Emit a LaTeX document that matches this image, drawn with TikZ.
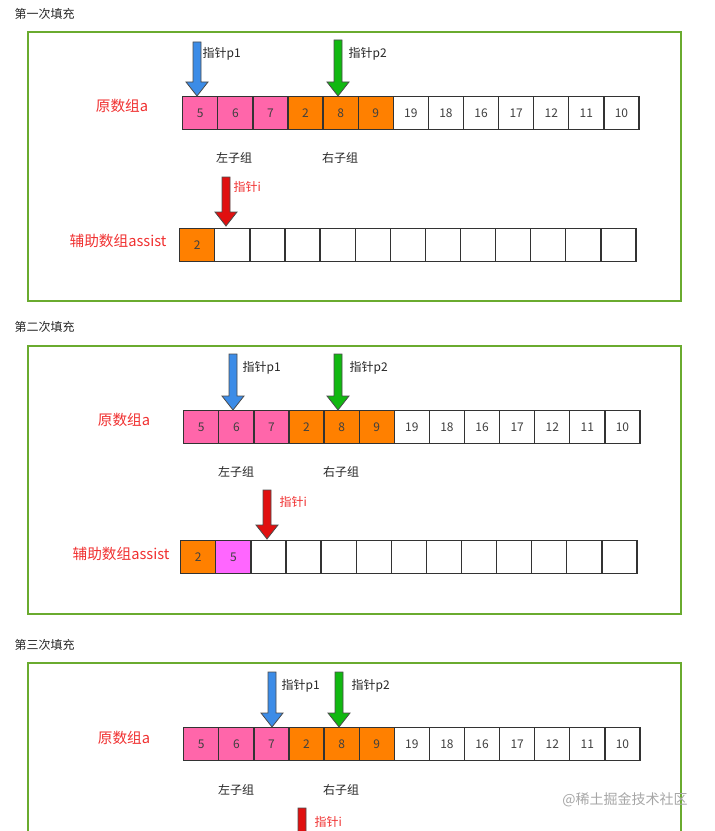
\documentclass[tikz,border=0pt]{standalone}
\usepackage{fontspec}
\setmainfont{Noto Sans CJK SC}
\definecolor{pk}{HTML}{FF66AA}
\definecolor{og}{HTML}{FF8000}
\definecolor{mg}{HTML}{FF66FF}
\definecolor{bl}{HTML}{3C8CE7}
\definecolor{gn}{HTML}{11B811}
\definecolor{rd}{HTML}{E01010}
\definecolor{fr}{HTML}{6AAB2F}
\definecolor{lbl}{HTML}{F03030}
\tikzset{
 cell/.style={draw=black!80,line width=1pt,minimum width=26.4pt,minimum height=24.5pt,inner sep=0pt,text height=7pt,text depth=0pt,font=\fontsize{9}{10}\selectfont,text=black!75,anchor=north west},
 frame/.style={draw=fr,line width=1.2pt},
 title/.style={font=\fontsize{9}{10}\selectfont,text=black!85,anchor=west},
 small/.style={font=\fontsize{9}{10}\selectfont,text=black!85},
 redlbl/.style={font=\fontsize{11}{12}\selectfont,text=lbl},
 ptr/.style={font=\fontsize{9}{10}\selectfont,text=black!85,anchor=west},
}
\newcommand{\barrow}[4]{\fill[#4,draw=black!70,line width=0.6pt]
 (#1-4,#2) -- (#1+4,#2) -- (#1+4,#3-14) -- (#1+11,#3-14) -- (#1,#3) -- (#1-11,#3-14) -- (#1-4,#3-14) -- cycle;}
\newcommand{\arr}[4]{\foreach \v/\c [count=\i from 0] in {#4}
 {\node[cell,fill=\c] (#1\i) at (#2+\i*35.1,#3) {\v};}}
\begin{document}
\begin{tikzpicture}[x=0.75pt,y=-0.75pt]
\useasboundingbox (0,0) rectangle (714,831);
\clip (0,0) rectangle (714,831);
% ---------- panel 1
\node[title] (t1) at (10,14) {第一次填充};
\draw[frame] (28,32) rectangle (681,301);
\arr{a}{182}{96}{5/pk,6/pk,7/pk,2/og,8/og,9/og,19/white,18/white,16/white,17/white,12/white,11/white,10/white}
\node[redlbl] (la) at (122,106) {原数组a};
\barrow{197}{42}{96}{bl}
\barrow{338}{40}{96}{gn}
\node[ptr] (p1) at (198,54) {指针p1};
\node[ptr] (p2) at (344,54) {指针p2};
\node[small] (l1) at (234,158) {左子组};
\node[small] (r1) at (340,158) {右子组};
\barrow{226}{177}{226}{rd}
\node[ptr,text=lbl] (i1) at (229,187) {指针i};
\arr{b}{179}{228}{2/og,/white,/white,/white,/white,/white,/white,/white,/white,/white,/white,/white,/white}
\node[redlbl] (lb) at (118,241) {辅助数组assist};
% ---------- panel 2
\node[title] (t2) at (10,327) {第二次填充};
\draw[frame] (28,346) rectangle (681,614);
\arr{c}{183}{410}{5/pk,6/pk,7/pk,2/og,8/og,9/og,19/white,18/white,16/white,17/white,12/white,11/white,10/white}
\node[redlbl] (lc) at (124,420) {原数组a};
\barrow{233}{354}{410}{bl}
\barrow{338}{354}{410}{gn}
\node[ptr] (p3) at (238,368) {指针p1};
\node[ptr] (p4) at (345,368) {指针p2};
\node[small] (l2) at (236,472) {左子组};
\node[small] (r2) at (341,472) {右子组};
\barrow{267}{490}{539}{rd}
\node[ptr,text=lbl] (i2) at (275,502) {指针i};
\arr{d}{180}{540}{2/og,5/mg,/white,/white,/white,/white,/white,/white,/white,/white,/white,/white,/white}
\node[redlbl] (ld) at (121,554) {辅助数组assist};
% ---------- panel 3
\node[title] (t3) at (10,645) {第三次填充};
\draw[frame] (28,663) rectangle (681,840);
\arr{e}{183}{727}{5/pk,6/pk,7/pk,2/og,8/og,9/og,19/white,18/white,16/white,17/white,12/white,11/white,10/white}
\node[redlbl] (le) at (124,738) {原数组a};
\barrow{272}{672}{727}{bl}
\barrow{339}{672}{727}{gn}
\node[ptr] (p5) at (277,686) {指针p1};
\node[ptr] (p6) at (347,686) {指针p2};
\node[small] (l3) at (236,790) {左子组};
\node[small] (r3) at (341,790) {右子组};
\barrow{302}{808}{860}{rd}
\node[ptr,text=lbl] (i3) at (310,822) {指针i};
\node[font=\fontsize{10.5}{12}\selectfont,text=black!35] (wm) at (625,800) {@稀土掘金技术社区};
\end{tikzpicture}
\end{document}
